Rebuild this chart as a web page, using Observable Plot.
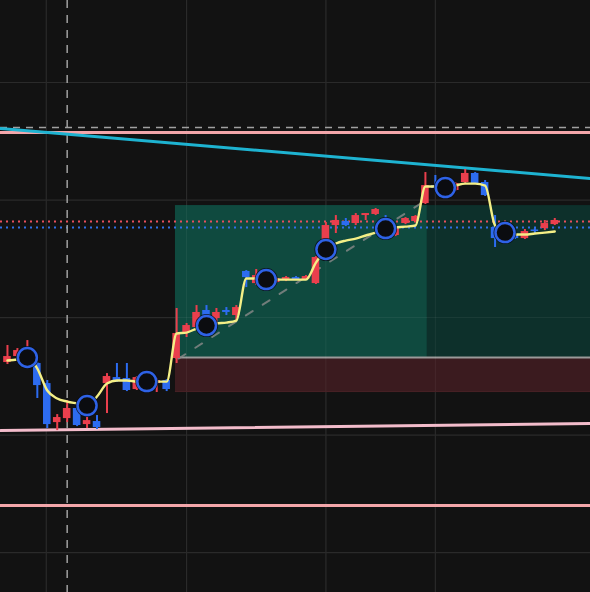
<!DOCTYPE html>
<html>
<head>
<meta charset="utf-8">
<script src="https://cdn.jsdelivr.net/npm/d3@7"></script>
<script src="https://cdn.jsdelivr.net/npm/@observablehq/plot@0.6"></script>
<style>
  html, body { margin: 0; padding: 0; background: #121212; overflow: hidden; }
  #chart svg { display: block; }
</style>
</head>
<body>
<div id="chart"></div>
<script>
// ---- Data ----
const barIndex = d3.range(56);
const open = [116.17,116.68,116.60,116.09,114.38,111.06,111.40,112.26,110.89,111.15,
  114.38,114.89,114.81,113.87,114.72,114.38,114.64,116.51,118.72,119.15,
  120.60,119.91,120.60,120.17,123.92,122.89,123.06,122.98,123.15,123.40,
  123.23,122.89,126.38,127.83,128.17,128.00,128.68,128.77,127.83,126.98,
  128.00,128.17,129.70,131.23,130.81,130.81,131.49,132.26,131.49,127.66,
  127.40,127.06,126.72,127.45,127.57,127.91];
const high = [117.62,117.36,118.04,116.17,114.64,111.74,112.94,112.43,111.57,111.66,
  115.23,116.09,116.09,114.98,114.89,114.81,114.72,120.77,119.49,121.02,
  121.02,120.77,120.85,121.02,124.00,124.09,123.49,123.40,123.49,123.49,
  123.57,125.19,128.09,128.68,128.43,128.85,128.85,129.28,128.68,127.74,
  128.51,128.68,132.34,132.09,131.32,131.49,132.60,132.34,131.66,128.68,
  127.49,127.15,127.49,127.57,128.26,128.43];
const low = [116.00,116.51,116.43,113.11,110.55,110.38,111.06,110.72,110.55,110.47,
  111.83,114.47,113.70,113.79,114.30,113.62,113.70,116.09,118.30,119.06,
  119.83,119.49,120.17,119.74,122.55,122.72,122.89,122.89,123.06,123.15,
  123.15,122.81,126.13,127.15,127.74,127.83,128.26,128.68,127.32,126.89,
  127.91,128.09,129.62,130.89,130.72,130.72,131.40,131.32,130.30,125.96,
  126.98,126.64,126.64,127.15,127.40,127.83];
const close = [116.68,117.19,117.02,114.21,110.89,111.49,112.26,110.81,111.23,110.64,
  114.98,114.55,113.79,114.89,114.38,114.64,113.87,118.64,119.32,120.43,
  120.00,120.43,120.43,120.85,123.40,123.57,123.40,123.32,123.40,123.23,
  123.49,125.11,127.83,128.26,127.83,128.68,128.85,129.19,127.40,127.66,
  128.43,128.60,131.23,130.98,131.23,131.40,132.26,131.40,130.38,126.72,
  127.06,126.72,127.32,127.32,128.00,128.26];
const smoothLine = [116.34,116.43,116.60,115.66,113.79,113.11,112.85,112.68,112.51,113.28,
  114.38,114.64,114.64,114.55,114.55,114.55,114.55,118.64,118.72,119.06,
  119.32,119.49,119.57,119.74,123.32,123.32,123.23,123.23,123.23,123.23,
  123.23,124.68,125.79,126.30,126.55,126.72,126.98,127.23,127.57,127.66,
  127.74,127.83,131.15,131.15,131.06,131.23,131.40,131.40,131.23,127.83,
  127.23,127.06,127.06,127.15,127.23,127.32];
const signalBars = [2, 8, 14, 20, 26, 32, 38, 44, 50];

const xDomain = [-0.7, 58.59];
const yDomain = [96.6, 146.98];
const priceGrid = [100, 110, 120, 130, 140];
const timeGrid = [3.9, 18, 32, 43];

const zoneStart = 16.88, zoneSplit = 42.2;
const targetTop = 129.53, entryLevel = 116.60, stopLevel = 113.70;
const upperLevel = 135.74, lowerLevel = 104.0;
const redDotLevel = 128.17, blueDotLevel = 127.66;
const crossPrice = 136.17, crossBar = 6;
const cyanTrend = [{x: -0.7, y: 136.09}, {x: 58.59, y: 131.83}];
const pinkTrend = [{x: -0.7, y: 110.38}, {x: 58.59, y: 110.98}];
const projection = [{x: 17.19, y: 116.51}, {x: 42.0, y: 129.96}];

// ---- Tables ----
const candles = barIndex.map(i => ({i, open: open[i], high: high[i], low: low[i], close: close[i],
  up: close[i] >= open[i]}));
const line = barIndex.map(i => ({i, v: smoothLine[i]}));
const signals = signalBars.map(i => ({i, v: smoothLine[i]}));

const RED = "#ea3f4d", BLUE = "#2d6cf0";
const colorOf = d => d.up ? RED : BLUE;

const chart = Plot.plot({
  width: 590,
  height: 592,
  margin: 0,
  style: {background: "#121212"},
  x: {domain: xDomain, axis: null},
  y: {domain: yDomain, axis: null},
  marks: [
    // grid
    Plot.ruleY(priceGrid, {stroke: "#2a2a2a", strokeWidth: 1.2}),
    Plot.ruleX(timeGrid, {stroke: "#2a2a2a", strokeWidth: 1.2}),
    // zones
    Plot.rect([{x1: zoneStart, x2: zoneSplit, y1: entryLevel, y2: targetTop}],
      {x1: "x1", x2: "x2", y1: "y1", y2: "y2", fill: "#0f4a3f"}),
    Plot.rect([{x1: zoneSplit, x2: xDomain[1], y1: entryLevel, y2: targetTop}],
      {x1: "x1", x2: "x2", y1: "y1", y2: "y2", fill: "#0d302b"}),
    Plot.rect([{x1: zoneStart, x2: xDomain[1], y1: stopLevel, y2: entryLevel}],
      {x1: "x1", x2: "x2", y1: "y1", y2: "y2", fill: "#3b1b1f"}),
    Plot.ruleY([entryLevel], {x1: zoneStart, x2: xDomain[1], stroke: "#9a9a9a", strokeWidth: 2}),
    Plot.ruleY([stopLevel], {x1: zoneStart, x2: xDomain[1], stroke: "#4a2226", strokeWidth: 1}),
    // grid lines visible over zone
    Plot.ruleY(priceGrid.filter(p => p > entryLevel && p < targetTop), {x1: zoneStart, x2: xDomain[1], stroke: "#ffffff", strokeOpacity: 0.06}),
    Plot.ruleX(timeGrid.filter(t => t > zoneStart), {y1: stopLevel, y2: targetTop, stroke: "#ffffff", strokeOpacity: 0.06}),
    // levels
    Plot.ruleY([redDotLevel], {stroke: "#e8505c", strokeWidth: 2, strokeDasharray: "2,4"}),
    Plot.ruleY([blueDotLevel], {stroke: "#3170e6", strokeWidth: 2, strokeDasharray: "2,4"}),
    // crosshair
    Plot.ruleY([crossPrice], {stroke: "#a0a0a0", strokeWidth: 1.5, strokeDasharray: "7,6"}),
    Plot.ruleX([crossBar], {stroke: "#a0a0a0", strokeWidth: 1.5, strokeDasharray: "8,7"}),
    // horizontal pink levels
    Plot.ruleY([upperLevel, lowerLevel], {stroke: "#f3a6aa", strokeWidth: 3}),
    // trend lines
    Plot.line(cyanTrend, {x: "x", y: "y", stroke: "#1eb3d1", strokeWidth: 3}),
    Plot.line(pinkTrend, {x: "x", y: "y", stroke: "#f3bccb", strokeWidth: 3}),
    // projection
    Plot.line(projection, {x: "x", y: "y", stroke: "#8a8a8a", strokeOpacity: 0.8, strokeWidth: 2, strokeDasharray: "8,12"}),
    // candles
    Plot.ruleX(candles, {x: "i", y1: "low", y2: "high", stroke: colorOf, strokeWidth: 2}),
    Plot.rect(candles, {x1: d => d.i - 0.38, x2: d => d.i + 0.38, y1: "open", y2: "close", fill: colorOf}),
    // smoothed line
    Plot.line(line, {x: "i", y: "v", stroke: "#f4ef86", strokeWidth: 2.4, curve: "monotone-x"}),
    // signals
    Plot.dot(signals, {x: "i", y: "v", r: 11.5, fill: "#0b0c10", fillOpacity: 0.85}),
    Plot.dot(signals, {x: "i", y: "v", r: 9.5, fill: "#0b0c10", stroke: "#2e62e6", strokeWidth: 2.5})
  ]
});
document.getElementById("chart").append(chart);
</script>
</body>
</html>
